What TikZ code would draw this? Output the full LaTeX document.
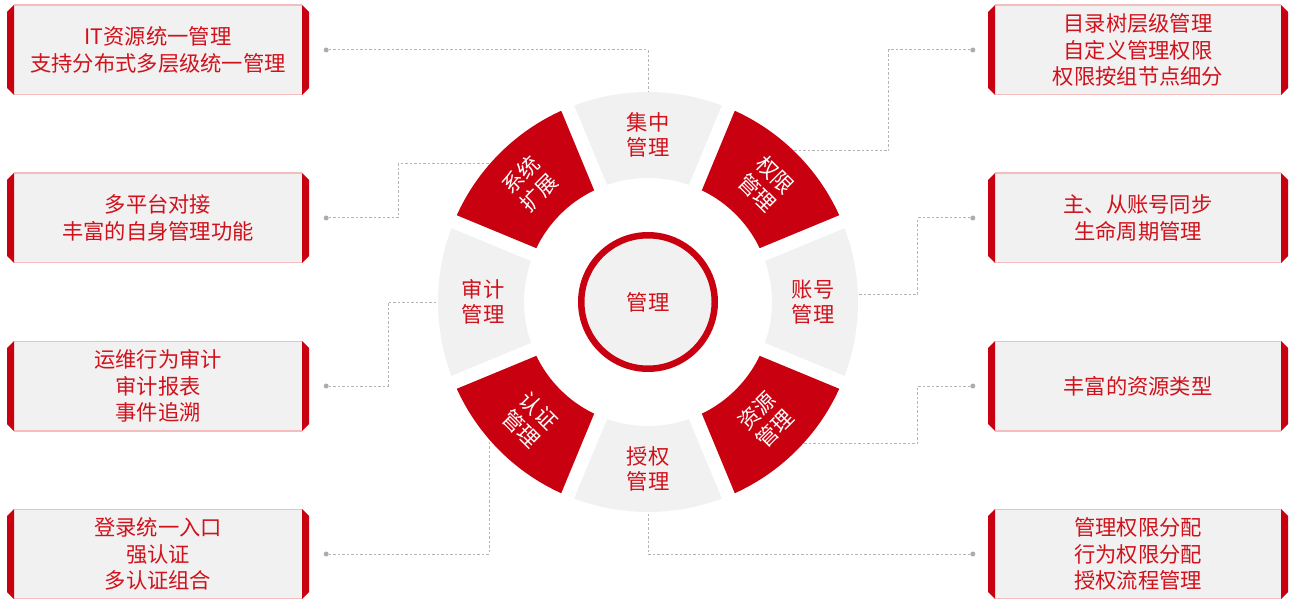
\documentclass[tikz,border=0pt]{standalone}
\usepackage{fontspec}
\newfontfamily\cjk{Noto Sans CJK SC}
\definecolor{segred}{RGB}{200,0,15}
\definecolor{txtred}{RGB}{208,18,28}
\definecolor{boxgray}{RGB}{241,241,241}
\definecolor{pinkline}{RGB}{244,190,190}
\definecolor{linegray}{RGB}{180,180,180}
\definecolor{dotgray}{RGB}{172,172,172}
\newcommand\wheelsector[2]{%
  \fill[#2] ({#1-22.5+1.91}:210pt) arc[start angle={#1-22.5+1.91}, end angle={#1+22.5-1.91}, radius=210pt]
    -- ({#1+22.5-3.24}:124pt) arc[start angle={#1+22.5-3.24}, end angle={#1-22.5+3.24}, radius=124pt] -- cycle;}
\begin{document}
\begin{tikzpicture}[x=1pt,y=1pt,
  infobox/.style={minimum width=302pt, minimum height=90pt, inner sep=0pt, align=center,
    text=txtred, font=\cjk\fontsize{21.3}{26.5}\selectfont,
    path picture={
      \fill[boxgray] ([xshift=7pt]path picture bounding box.north west) rectangle ([xshift=-7pt]path picture bounding box.south east);
      \draw[pinkline, line width=1.4pt] ([xshift=7pt]path picture bounding box.north west) -- ([xshift=-7pt]path picture bounding box.north east);
      \draw[pinkline, line width=1.4pt] ([xshift=7pt]path picture bounding box.south west) -- ([xshift=-7pt]path picture bounding box.south east);
      \fill[segred] ([yshift=-7pt]path picture bounding box.north west) -- ([xshift=7pt]path picture bounding box.north west)
        -- ([xshift=7pt]path picture bounding box.south west) -- ([yshift=7pt]path picture bounding box.south west) -- cycle;
      \fill[segred] ([yshift=-7pt]path picture bounding box.north east) -- ([xshift=-7pt]path picture bounding box.north east)
        -- ([xshift=-7pt]path picture bounding box.south east) -- ([yshift=7pt]path picture bounding box.south east) -- cycle;
    }},
  dot/.style={circle, fill=dotgray, minimum size=5pt, inner sep=0pt},
  link/.style={linegray, line width=1pt, dash pattern=on 2.5pt off 2pt},
  seglabel/.style={align=center, font=\cjk\fontsize{21.3}{25}\selectfont, inner sep=0pt},
  graylabel/.style={seglabel, text=txtred},
  redlabel/.style={seglabel, text=white}]
\useasboundingbox (0,0) rectangle (1293,598);

% boxes
\node[infobox] (b1) at (158,548) {IT资源统一管理\\支持分布式多层级统一管理};
\node[infobox] (b2) at (158,380) {多平台对接\\丰富的自身管理功能};
\node[infobox] (b3) at (158,212) {运维行为审计\\审计报表\\事件追溯};
\node[infobox] (b4) at (158,44) {登录统一入口\\强认证\\多认证组合};
\node[infobox, minimum width=300pt] (b5) at (1138,548) {目录树层级管理\\自定义管理权限\\权限按组节点细分};
\node[infobox, minimum width=300pt] (b6) at (1138,380) {主、从账号同步\\生命周期管理};
\node[infobox, minimum width=300pt] (b7) at (1138,212) {丰富的资源类型};
\node[infobox, minimum width=300pt] (b8) at (1138,44) {管理权限分配\\行为权限分配\\授权流程管理};

% dots
\node[dot] (d1) at ([xshift=17pt]b1.east) {};
\node[dot] (d2) at ([xshift=17pt]b2.east) {};
\node[dot] (d3) at ([xshift=17pt]b3.east) {};
\node[dot] (d4) at ([xshift=17pt]b4.east) {};
\node[dot] (d5) at ([xshift=-15pt]b5.west) {};
\node[dot] (d6) at ([xshift=-15pt]b6.west) {};
\node[dot] (d7) at ([xshift=-15pt]b7.west) {};
\node[dot] (d8) at ([xshift=-15pt]b8.west) {};

% connector ends on the wheel
\coordinate (e1) at (648,506);
\coordinate (e2) at (490,434);
\coordinate (e3) at (438,296);
\coordinate (e4) at (489,159);
\coordinate (e5) at (794,447);
\coordinate (e6) at (858,304);
\coordinate (e7) at (803,155);
\coordinate (e8) at (648,86);

\draw[link] (d1) -| (e1);
\draw[link] (d2) -- ++(72pt,0) |- (e2);
\draw[link] (d3) -- ++(62pt,0) |- (e3);
\draw[link] (d4) -| (e4);
\draw[link] (d5) -- ++(-84pt,0) |- (e5);
\draw[link] (d6) -- ++(-55pt,0) |- (e6);
\draw[link] (d7) -- ++(-55pt,0) |- (e7);
\draw[link] (d8) -| (e8);

% wheel
\begin{scope}[shift={(648,296)}]
  \wheelsector{90}{boxgray}
  \wheelsector{0}{boxgray}
  \wheelsector{-90}{boxgray}
  \wheelsector{180}{boxgray}
  \wheelsector{45}{segred}
  \wheelsector{-45}{segred}
  \wheelsector{-135}{segred}
  \wheelsector{135}{segred}
  \node[graylabel] (s1) at (90:167pt) {集中\\管理};
  \node[redlabel, rotate=-45] (s2) at (45:167pt) {权限\\管理};
  \node[graylabel] (s3) at (0:165pt) {账号\\管理};
  \node[redlabel, rotate=45] (s4) at (-45:167pt) {资源\\管理};
  \node[graylabel] (s5) at (-90:167pt) {授权\\管理};
  \node[redlabel, rotate=-45] (s6) at (-135:167pt) {认证\\管理};
  \node[graylabel] (s7) at (180:165pt) {审计\\管理};
  \node[redlabel, rotate=45] (s8) at (135:167pt) {系统\\扩展};
\end{scope}
\node[circle, draw=segred, line width=6.5pt, fill=boxgray, minimum size=133.5pt, inner sep=0pt,
  text=txtred, font=\cjk\fontsize{21.3}{25}\selectfont] (hub) at (648,296) {管理};
\end{tikzpicture}
\end{document}
